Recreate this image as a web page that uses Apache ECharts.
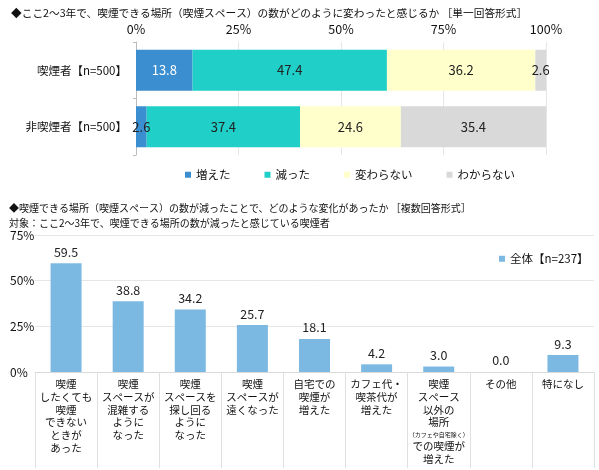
<!DOCTYPE html>
<html>
<head>
<meta charset="utf-8">
<script src="https://cdn.jsdelivr.net/npm/echarts@6/dist/echarts.min.js"></script>
<style>
  html, body { margin: 0; padding: 0; background: #fff; }
  #main { width: 599px; height: 470px; }
</style>
</head>
<body>
<div id="main"></div>
<script>
// top chart: change in number of smoking places
var rowLabels = ['喫煙者【n=500】', '非喫煙者【n=500】'];
var answerNames = ['増えた', '減った', '変わらない', 'わからない'];
var increased = [13.8, 2.6];
var decreased = [47.4, 37.4];
var unchanged = [36.2, 24.6];
var unknown = [2.6, 35.4];

// bottom chart: what changed
var changeCats = [
    '喫煙\nしたくても\n喫煙\nできない\nときが\nあった',
    '喫煙\nスペースが\n混雑する\nように\nなった',
    '喫煙\nスペースを\n探し回る\nように\nなった',
    '喫煙\nスペースが\n遠くなった',
    '自宅での\n喫煙が\n増えた',
    'カフェ代・\n喫茶代が\n増えた',
    '喫煙\nスペース\n以外の\n場所\n{s|（カフェや自宅除く）}\nでの喫煙が\n増えた',
    'その他',
    '特になし'
];
var changeValues = [59.5, 38.8, 34.2, 25.7, 18.1, 4.2, 3.0, 0.0, 9.3];
var changeSeries = '全体【n=237】';

var font = '"Noto Sans CJK JP", sans-serif';
var colors = ['#3b8fd1', '#1fcfc8', '#ffffcc', '#d9d9d9'];
var labelColors = ['#fff', '#222', '#222', '#222'];
var stackData = [increased, decreased, unchanged, unknown];

var chart = echarts.init(document.getElementById('main'));

var topSeries = answerNames.map(function (name, i) {
    return {
        name: name,
        type: 'bar',
        stack: 'total',
        xAxisIndex: 0,
        yAxisIndex: 0,
        barWidth: 41,
        itemStyle: { color: colors[i] },
        label: {
            show: true,
            position: 'inside',
            color: labelColors[i],
            fontSize: 13,
            fontFamily: font,
            formatter: function (p) { return p.value.toFixed(1); }
        },
        // thin segments get dark text, it spills over the bar
        data: stackData[i].map(function (v) {
            return v < 5 ? { value: v, label: { color: '#222' } } : v;
        })
    };
});

chart.setOption({
    backgroundColor: '#fff',
    textStyle: { fontFamily: font },
    title: [
        {
            text: '◆ここ2～3年で、喫煙できる場所（喫煙スペース）の数がどのように変わったと感じるか ［単一回答形式］',
            left: 6, top: 3,
            textStyle: { fontSize: 10.7, fontWeight: 'normal', color: '#111', fontFamily: font }
        },
        {
            text: '◆喫煙できる場所（喫煙スペース）の数が減ったことで、どのような変化があったか ［複数回答形式］\n対象：ここ2～3年で、喫煙できる場所の数が減ったと感じている喫煙者',
            left: 4, top: 196,
            textStyle: { fontSize: 10, lineHeight: 15, fontWeight: 'normal', color: '#111', fontFamily: font }
        }
    ],
    legend: [
        {
            data: answerNames,
            left: 180, top: 164,
            itemWidth: 6, itemHeight: 6, itemGap: 34,
            icon: 'rect',
            textStyle: { fontSize: 11.5, color: '#111', fontFamily: font }
        },
        {
            data: [changeSeries],
            left: 494, top: 248,
            itemWidth: 6, itemHeight: 6,
            icon: 'rect',
            textStyle: { fontSize: 11.5, color: '#111', fontFamily: font }
        }
    ],
    grid: [
        { left: 136, right: 53, top: 42, height: 113, outerBoundsMode: 'none' },
        { left: 35, right: 5, top: 235, height: 137, outerBoundsMode: 'none' }
    ],
    xAxis: [
        {
            gridIndex: 0,
            type: 'value',
            position: 'top',
            min: 0, max: 100, interval: 25,
            axisLine: { show: false },
            axisTick: { show: false },
            axisLabel: { fontSize: 12.5, color: '#111', formatter: '{value}%', margin: 6 },
            splitLine: { show: true, lineStyle: { color: '#e6e6e6' } }
        },
        {
            gridIndex: 1,
            type: 'category',
            data: changeCats,
            axisLine: { lineStyle: { color: '#d9d9d9' } },
            axisTick: { show: true, interval: 0, length: 96, lineStyle: { color: '#e0e0e0' } },
            axisLabel: {
                interval: 0, fontSize: 10.5, lineHeight: 12.7, color: '#111', margin: 6,
                rich: { s: { fontSize: 6, lineHeight: 11, color: '#111' } }
            }
        }
    ],
    yAxis: [
        {
            gridIndex: 0,
            type: 'category',
            inverse: true,
            data: rowLabels,
            axisLine: { lineStyle: { color: '#bbb' } },
            axisTick: { show: true, length: 3, lineStyle: { color: '#bbb' } },
            axisLabel: { fontSize: 11.5, color: '#111', margin: 9 }
        },
        {
            gridIndex: 1,
            type: 'value',
            min: 0, max: 75, interval: 25,
            axisLine: { show: false },
            axisTick: { show: false },
            axisLabel: { fontSize: 12, color: '#111', formatter: '{value}%', align: 'left', margin: 25 },
            splitLine: { lineStyle: { color: '#e6e6e6' } }
        }
    ],
    series: topSeries.concat([
        {
            name: changeSeries,
            type: 'bar',
            xAxisIndex: 1,
            yAxisIndex: 1,
            barWidth: 31,
            itemStyle: { color: '#7cb9e2' },
            label: {
                show: true,
                position: 'top',
                distance: 5,
                color: '#222',
                fontSize: 12.5,
                fontFamily: font,
                formatter: function (p) { return p.value.toFixed(1); }
            },
            data: changeValues
        }
    ])
});
</script>
</body>
</html>
